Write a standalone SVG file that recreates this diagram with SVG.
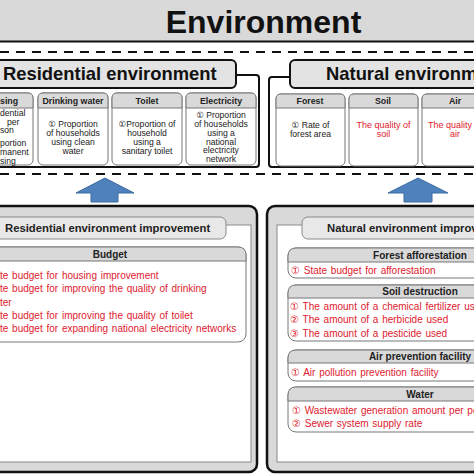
<svg xmlns="http://www.w3.org/2000/svg" width="474" height="474" viewBox="0 0 474 474">
<style>
text{font-family:"Liberation Sans",Arial,"DejaVu Sans",sans-serif;}
.title{font-size:32px;font-weight:bold;fill:#111;}
.sec{font-size:18.4px;font-weight:bold;fill:#111;}
.hdr{font-size:8.8px;font-weight:bold;fill:#222;text-anchor:middle;}
.t{font-size:8.6px;fill:#1a1a1a;text-anchor:middle;}
.tl{font-size:8.6px;fill:#1a1a1a;}
.red{font-size:9px;fill:#e0202e;text-anchor:middle;}
.pill{font-size:11.3px;font-weight:bold;fill:#222;}
.bh{font-size:10px;font-weight:bold;fill:#222;text-anchor:middle;}
.ri{font-size:10px;fill:#e0202e;word-spacing:1px;}
.box{fill:#fff;stroke:#777;stroke-width:1;}
.boxh{fill:#d9d9d9;stroke:#777;stroke-width:1;}
.outer{fill:#fff;stroke:#111;stroke-width:2;}
.sechdr{fill:#e3e3e3;stroke:#111;stroke-width:2;}
.panel{fill:#d9d9d9;stroke:#111;stroke-width:2.5;}
.inner{fill:#fff;stroke:#8a8a8a;stroke-width:1;}
.pillbox{fill:#e8e8e8;stroke:#888;stroke-width:1;}
.dash{stroke:#111;stroke-width:2;stroke-dasharray:9 7;}
.arrow{fill:#4f81bd;stroke:#3b6aa0;stroke-width:1;}
</style>

<g id="title">
<rect x="0" y="0" width="474" height="41" fill="#d9d9d9"/>
<line x1="0" y1="41.5" x2="474" y2="41.5" stroke="#111" stroke-width="2"/>
<text class="title" x="263.5" y="33" text-anchor="middle">Environment</text>
</g>

<g id="dividers">
<line class="dash" x1="0" y1="52" x2="474" y2="52"/>
<line class="dash" x1="0" y1="174" x2="474" y2="174"/>
</g>

<g id="residential">
<rect class="outer" x="-10" y="75" width="269" height="92" rx="3"/>
<rect class="sechdr" x="-10" y="60" width="246" height="28" rx="5"/>
<text class="sec" x="3" y="80">Residential environment</text>
</g>

<g id="housing">
<rect class="box" x="-37" y="93" width="70" height="72" rx="5"/>
<path class="boxh" d="M-37,108 V98 Q-37,93 -32,93 H28 Q33,93 33,98 V108 Z"/>
<text class="hdr" x="0" y="104" style="text-anchor:start">sing</text>
<text class="tl" x="0" y="116">dential</text>
<text class="tl" x="7" y="124.5">per</text>
<text class="tl" x="0" y="133">son</text>
<text class="tl" x="0" y="146">portion</text>
<text class="tl" x="0" y="155">manent</text>
<text class="tl" x="0" y="163.5">sing</text>
</g>

<g id="drinking-water">
<rect class="box" x="38" y="93" width="70" height="72" rx="5"/>
<path class="boxh" d="M38,108 V98 Q38,93 43,93 H103 Q108,93 108,98 V108 Z"/>
<text class="hdr" x="73" y="104">Drinking water</text>
<text class="t" x="73" y="127">① Proportion</text>
<text class="t" x="73" y="136">of households</text>
<text class="t" x="73" y="145">using clean</text>
<text class="t" x="73" y="154">water</text>
</g>

<g id="toilet">
<rect class="box" x="112" y="93" width="70" height="72" rx="5"/>
<path class="boxh" d="M112,108 V98 Q112,93 117,93 H177 Q182,93 182,98 V108 Z"/>
<text class="hdr" x="147" y="104">Toilet</text>
<text class="t" x="147" y="127">①Proportion of</text>
<text class="t" x="147" y="136">household</text>
<text class="t" x="147" y="145">using a</text>
<text class="t" x="147" y="154">sanitary toilet</text>
</g>

<g id="electricity">
<rect class="box" x="186" y="93" width="70" height="72" rx="5"/>
<path class="boxh" d="M186,108 V98 Q186,93 191,93 H251 Q256,93 256,98 V108 Z"/>
<text class="hdr" x="221" y="104">Electricity</text>
<text class="t" x="221" y="118">① Proportion</text>
<text class="t" x="221" y="127">of households</text>
<text class="t" x="221" y="136">using a</text>
<text class="t" x="221" y="144.5">national</text>
<text class="t" x="221" y="153">electricity</text>
<text class="t" x="221" y="162">network</text>
</g>

<g id="natural">
<rect class="outer" x="269" y="77" width="230" height="90" rx="3"/>
<rect class="sechdr" x="290" y="60" width="220" height="28" rx="5"/>
<text class="sec" x="326" y="80">Natural environment</text>
</g>

<g id="forest">
<rect class="box" x="276" y="94" width="69" height="72" rx="5"/>
<path class="boxh" d="M276,108 V99 Q276,94 281,94 H340 Q345,94 345,99 V108 Z"/>
<text class="hdr" x="310" y="104">Forest</text>
<text class="t" x="310.5" y="128">① Rate of</text>
<text class="t" x="310.5" y="137">forest area</text>
</g>

<g id="soil">
<rect class="box" x="349" y="94" width="69" height="72" rx="5"/>
<path class="boxh" d="M349,108 V99 Q349,94 354,94 H413 Q418,94 418,99 V108 Z"/>
<text class="hdr" x="383" y="104">Soil</text>
<text class="red" x="383.5" y="128">The quality of</text>
<text class="red" x="383.5" y="137">soil</text>
</g>

<g id="air">
<rect class="box" x="422" y="94" width="69" height="72" rx="5"/>
<path class="boxh" d="M422,108 V99 Q422,94 427,94 H486 Q491,94 491,99 V108 Z"/>
<text class="hdr" x="455" y="104">Air</text>
<text class="red" x="455" y="128">The quality of</text>
<text class="red" x="455" y="137">air</text>
</g>

<g id="connectors">
<path class="arrow" d="M105,178 L134,193 L118,193 L118,202 L91,202 L91,193 L76,193 Z"/>
<path class="arrow" d="M418,178 L448,193 L432,193 L432,202 L404,202 L404,193 L388,193 Z"/>
</g>

<g id="residential-improvement">
<rect class="panel" x="-12" y="206" width="269" height="266" rx="8"/>
<rect class="inner" x="-5" y="225" width="256" height="237"/>
<rect class="pillbox" x="-10" y="217" width="236" height="22" rx="6"/>
<text class="pill" x="5" y="232">Residential environment improvement</text>
</g>

<g id="budget">
<rect class="box" x="-10" y="247" width="256" height="95" rx="8"/>
<path class="boxh" d="M-10,261 V255 Q-10,247 -2,247 H238 Q246,247 246,255 V261 Z"/>
<text class="bh" x="110" y="258">Budget</text>
<text class="ri" x="0" y="278.5">te budget for housing improvement</text>
<text class="ri" x="0" y="291.5">te budget for improving the quality of drinking</text>
<text class="ri" x="0" y="305.5">ter</text>
<text class="ri" x="0" y="318.5">te budget for improving the quality of toilet</text>
<text class="ri" x="0" y="331.5">te budget for expanding national electricity networks</text>
</g>

<g id="natural-improvement">
<rect class="panel" x="267" y="206" width="230" height="266" rx="8"/>
<rect class="inner" x="277" y="225" width="220" height="237"/>
<rect class="pillbox" x="302" y="217" width="200" height="22" rx="6"/>
<text class="pill" x="327" y="232">Natural environment improvement</text>
</g>

<g id="forest-afforestation">
<rect class="box" x="288" y="248" width="264" height="30" rx="8"/>
<path class="boxh" d="M288,262 V256 Q288,248 296,248 H544 Q552,248 552,256 V262 Z"/>
<text class="bh" x="420" y="259">Forest afforestation</text>
<text class="ri" x="291" y="273.5">①  State budget for afforestation</text>
</g>

<g id="soil-destruction">
<rect class="box" x="288" y="285" width="264" height="56" rx="8"/>
<path class="boxh" d="M288,298 V293 Q288,285 296,285 H544 Q552,285 552,293 V298 Z"/>
<text class="bh" x="420" y="295">Soil destruction</text>
<text class="ri" x="290" y="310">① The amount of a chemical fertilizer used</text>
<text class="ri" x="290" y="323">② The amount of a herbicide used</text>
<text class="ri" x="290" y="337">③ The amount of  a pesticide used</text>
</g>

<g id="air-prevention">
<rect class="box" x="288" y="350" width="264" height="31" rx="8"/>
<path class="boxh" d="M288,363 V358 Q288,350 296,350 H544 Q552,350 552,358 V363 Z"/>
<text class="bh" x="420" y="360">Air prevention facility</text>
<text class="ri" x="291" y="375.5">① Air pollution prevention facility</text>
</g>

<g id="water">
<rect class="box" x="288" y="387" width="264" height="45" rx="8"/>
<path class="boxh" d="M288,401 V395 Q288,387 296,387 H544 Q552,387 552,395 V401 Z"/>
<text class="bh" x="420" y="397.5">Water</text>
<text class="ri" x="292" y="413.5">① Wastewater generation amount per person</text>
<text class="ri" x="292" y="426.5">② Sewer system supply rate</text>
</g>
</svg>
